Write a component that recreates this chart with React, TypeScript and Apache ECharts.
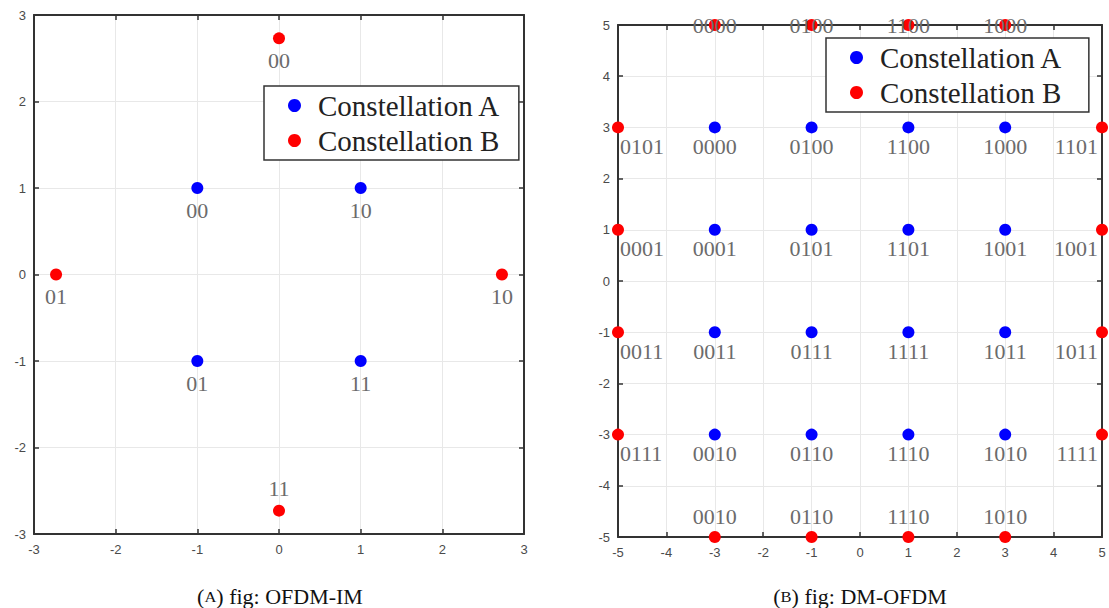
import React, { useEffect, useRef } from "react";
import * as echarts from "echarts";

// ---- Data: (A) OFDM-IM ----
const imAX = [-1, 1, -1, 1];
const imAY = [1, 1, -1, -1];
const imALabels = ["00", "10", "01", "11"];
const imBX = [0, -2.73, 2.73, 0];
const imBY = [2.73, 0, 0, -2.73];
const imBLabels = ["00", "01", "10", "11"];

// ---- Data: (B) DM-OFDM ----
const dmAX = [-3, -1, 1, 3, -3, -1, 1, 3, -3, -1, 1, 3, -3, -1, 1, 3];
const dmAY = [3, 3, 3, 3, 1, 1, 1, 1, -1, -1, -1, -1, -3, -3, -3, -3];
const dmALabels = [
  "0000", "0100", "1100", "1000",
  "0001", "0101", "1101", "1001",
  "0011", "0111", "1111", "1011",
  "0010", "0110", "1110", "1010",
];
// Constellation B, grouped by where it sits
const dmBTopX = [-3, -1, 1, 3];
const dmBTopY = [5, 5, 5, 5];
const dmBTopLabels = ["0000", "0100", "1100", "1000"];
const dmBBottomX = [-3, -1, 1, 3];
const dmBBottomY = [-5, -5, -5, -5];
const dmBBottomLabels = ["0010", "0110", "1110", "1010"];
const dmBLeftX = [-5, -5, -5, -5];
const dmBLeftY = [3, 1, -1, -3];
const dmBLeftLabels = ["0101", "0001", "0011", "0111"];
const dmBRightX = [5, 5, 5, 5];
const dmBRightY = [3, 1, -1, -3];
const dmBRightLabels = ["1101", "1001", "1011", "1111"];

const captionA = "fig: OFDM-IM";
const captionB = "fig: DM-OFDM";

const BLUE = "#0000ff";
const RED = "#ff0000";
const LABEL_FONT = "'Liberation Serif', 'Times New Roman', serif";
const LABEL_COLOR = "#6b6b6b";

function pts(xs: number[], ys: number[], labels: string[], label: any) {
  return xs.map((x, i) => ({
    value: [x, ys[i]],
    name: labels[i],
    label: { ...label, formatter: labels[i] },
  }));
}

const baseLabel = {
  show: true,
  fontFamily: LABEL_FONT,
  fontSize: 22,
  color: LABEL_COLOR,
};

function axesFor(gridIndex: number, min: number, max: number) {
  const tickStyle = { show: true, inside: true, length: 5, lineStyle: { color: "#333", width: 1.5 } };
  const lineStyle = { show: true, onZero: false, lineStyle: { color: "#333", width: 2 } };
  const split = { show: true, lineStyle: { color: "#e8e8e8", width: 1 } };
  const labelStyle = { fontFamily: "'Liberation Sans', Arial, sans-serif", fontSize: 13, color: "#4a4a4a", margin: 9 };
  const x = [
    { type: "value", gridIndex, min, max, interval: 1, position: "bottom", axisLine: lineStyle, axisTick: tickStyle, splitLine: split, axisLabel: labelStyle },
    { type: "value", gridIndex, min, max, interval: 1, position: "top", axisLine: lineStyle, axisTick: tickStyle, splitLine: { show: false }, axisLabel: { show: false } },
  ];
  const y = [
    { type: "value", gridIndex, min, max, interval: 1, position: "left", axisLine: lineStyle, axisTick: tickStyle, splitLine: split, axisLabel: { ...labelStyle, margin: 8 } },
    { type: "value", gridIndex, min, max, interval: 1, position: "right", axisLine: lineStyle, axisTick: tickStyle, splitLine: { show: false }, axisLabel: { show: false } },
  ];
  return { x, y };
}

export default function App() {
  const ref = useRef<HTMLDivElement>(null);
  useEffect(() => {
    if (!ref.current) return;
    const chart = echarts.init(ref.current, undefined, { renderer: "svg" });
    const a1 = axesFor(0, -3, 3);
    const a2 = axesFor(1, -5, 5);

    const legendCommon = {
      orient: "vertical",
      icon: "circle",
      itemWidth: 13,
      itemHeight: 13,
      itemGap: 6,
      backgroundColor: "#fff",
      borderColor: "#333",
      borderWidth: 1.5,
      borderRadius: 0,
      textStyle: { fontFamily: LABEL_FONT, fontSize: 29, color: "#222", padding: [0, 0, 0, 12] },
      data: ["Constellation A", "Constellation B"],
      selectedMode: false,
    };

    const below = { ...baseLabel, position: "bottom", distance: 5 };
    const above = { ...baseLabel, position: "top", distance: 5 };
    const belowSmall = { ...baseLabel, position: "bottom", distance: 2 };
    const item = (c: string) => ({ color: c, opacity: 1 });

    const caption = (x: number, letter: string, text: string) => ({
      type: "text",
      x,
      y: 597,
      scaleX: 1.1,
      style: {
        text: "({s|" + letter + "}) " + text,
        align: "center",
        verticalAlign: "middle",
        fontFamily: LABEL_FONT,
        fontSize: 20,
        fill: "#111",
        rich: { s: { fontFamily: LABEL_FONT, fontSize: 15, fill: "#111" } },
      },
    });

    chart.setOption({
      animation: false,
      backgroundColor: "#fff",
      grid: [
        { left: 34, top: 15, width: 490, height: 519, show: false },
        { left: 618, top: 25, width: 484, height: 512, show: false },
      ],
      xAxis: [...a1.x, ...a2.x],
      yAxis: [...a1.y, ...a2.y],
      legend: [
        { ...legendCommon, left: 264, top: 86, padding: [5, 18, 5, 24] },
        { ...legendCommon, left: 826, top: 38, padding: [5, 26, 5, 24] },
      ],
      series: [
        {
          type: "scatter", name: "Constellation A", xAxisIndex: 0, yAxisIndex: 0,
          symbolSize: 12, itemStyle: item(BLUE), z: 5,
          data: pts(imAX, imAY, imALabels, below),
        },
        {
          type: "scatter", name: "Constellation B", xAxisIndex: 0, yAxisIndex: 0,
          symbolSize: 12, itemStyle: item(RED), z: 5,
          data: [
            ...pts(imBX.slice(0, 3), imBY.slice(0, 3), imBLabels.slice(0, 3), below),
            ...pts(imBX.slice(3), imBY.slice(3), imBLabels.slice(3), above),
          ],
        },
        {
          type: "scatter", name: "Constellation A", xAxisIndex: 2, yAxisIndex: 2,
          symbolSize: 12, itemStyle: item(BLUE), z: 5,
          data: pts(dmAX, dmAY, dmALabels, belowSmall),
        },
        {
          type: "scatter", name: "Constellation B", xAxisIndex: 2, yAxisIndex: 2,
          symbolSize: 12, itemStyle: item(RED), z: 5,
          data: [
            ...pts(dmBTopX, dmBTopY, dmBTopLabels, { ...baseLabel, position: "inside" }),
            ...pts(dmBBottomX, dmBBottomY, dmBBottomLabels, { ...baseLabel, position: "top", distance: 4 }),
            ...pts(dmBLeftX, dmBLeftY, dmBLeftLabels, { ...baseLabel, position: "bottom", distance: 2, align: "left", offset: [2, 0] }),
            ...pts(dmBRightX, dmBRightY, dmBRightLabels, { ...baseLabel, position: "bottom", distance: 2, align: "right", offset: [-4, 0] }),
          ],
        },
      ],
      graphic: [caption(280, "A", captionA), caption(860, "B", captionB)],
    });
    return () => chart.dispose();
  }, []);
  return (
    <div
      ref={ref}
      style={{ position: "fixed", left: 0, top: 0, width: 1109, height: 608, background: "#fff" }}
    />
  );
}
